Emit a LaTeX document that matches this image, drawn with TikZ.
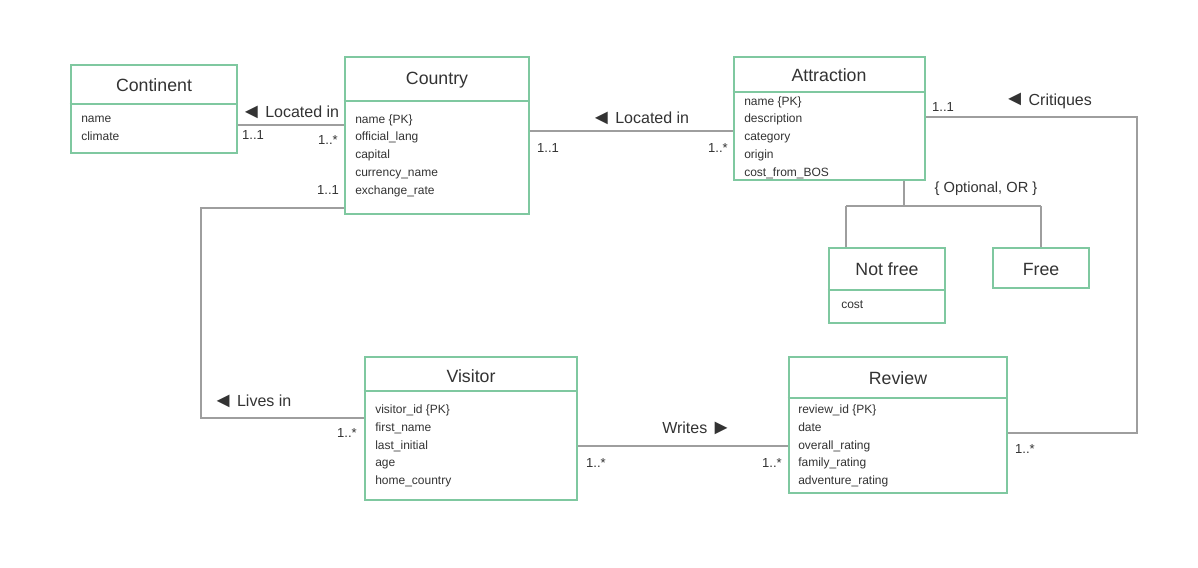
\documentclass[tikz,border=0pt]{standalone}
\usepackage{fontspec}
\setmainfont{Liberation Sans}
\usetikzlibrary{fit,calc,backgrounds}
\definecolor{boxgreen}{HTML}{7FC8A0}
\definecolor{linegray}{HTML}{9E9E9E}
\definecolor{txt}{HTML}{333333}
\newcommand\attrlist[4]{%
  \foreach \t [count=\i] in {#4} {\node[attr, anchor=base west] (#1-\i) at (#2, {#3+(\i-1)*17.8}) {\t};}}
\newcommand\lefttri{{\fontsize{16}{16}\selectfont\raisebox{-0.6pt}{◄}}\hspace{2.5pt}}
\newcommand\righttri{\hspace{2.5pt}{\fontsize{16}{16}\selectfont\raisebox{-0.6pt}{►}}}
\begin{document}
\begin{tikzpicture}[x=0.75pt,y=-0.75pt,
  classbox/.style={draw=boxgreen, line width=2.2pt, inner sep=0pt, fill=white},
  divider/.style={draw=boxgreen, line width=2.2pt},
  title/.style={font=\fontsize{13.3}{16}\selectfont, text=txt, inner sep=0pt},
  attr/.style={font=\fontsize{9}{11}\selectfont, text=txt, inner sep=0pt},
  conn/.style={draw=linegray, line width=2pt},
  lbl/.style={font=\fontsize{12}{14}\selectfont, text=txt, inner sep=0pt},
  mult/.style={font=\fontsize{9.8}{11}\selectfont, text=txt, inner sep=0pt},
]
\useasboundingbox (0,0) rectangle (1198,567);
% classes
\node[classbox, fit={(71,65) (237,153)}] (continent) {};
\draw[divider] (continent.west |- 0,104) -- (continent.east |- 0,104);
\node[title] (continentT) at (154,85) {Continent};
\attrlist{cont}{81}{122.5}{name,climate}

\node[classbox, fit={(345,57) (529,214)}] (country) {};
\draw[divider] (country.west |- 0,101) -- (country.east |- 0,101);
\node[title] (countryT) at (437,80) {Country};
\attrlist{coun}{355}{123}{name \{PK\},official\_lang,capital,currency\_name,exchange\_rate}

\node[classbox, fit={(734,57) (925,180)}] (attraction) {};
\draw[divider] (attraction.west |- 0,92) -- (attraction.east |- 0,92);
\node[title] (attractionT) at (829,75) {Attraction};
\attrlist{attr}{744}{105}{name \{PK\},description,category,origin,cost\_from\_BOS}

\node[classbox, fit={(829,248) (945,323)}] (notfree) {};
\draw[divider] (notfree.west |- 0,290) -- (notfree.east |- 0,290);
\node[title] (notfreeT) at (887,269) {Not free};
\attrlist{nf}{841}{308.5}{cost}

\node[classbox, fit={(993,248) (1089,288)}] (free) {};
\node[title] (freeT) at (1041,269) {Free};

\node[classbox, fit={(365,357) (577,500)}] (visitor) {};
\draw[divider] (visitor.west |- 0,391) -- (visitor.east |- 0,391);
\node[title] (visitorT) at (471,376) {Visitor};
\attrlist{vis}{375}{413.5}{visitor\_id \{PK\},first\_name,last\_initial,age,home\_country}

\node[classbox, fit={(789,357) (1007,493)}] (review) {};
\draw[divider] (review.west |- 0,398) -- (review.east |- 0,398);
\node[title] (reviewT) at (898,378) {Review};
\attrlist{rev}{798}{413.5}{review\_id \{PK\},date,overall\_rating,family\_rating,adventure\_rating}

% connectors
\coordinate (lc) at (290,125);
\coordinate (la) at (640,131);
\coordinate (liveL) at (201,208);
\coordinate (liveB) at (201,418);
\coordinate (wr) at (690,446);
\coordinate (crT) at (1137,117);
\coordinate (crB) at (1137,433);
\coordinate (gT) at (904,206);
\coordinate (gL) at (846,206);
\coordinate (gR) at (1041,206);
\begin{scope}[on background layer]
\fill[white] (0,0) rectangle (1198,567);
\draw[conn] (continent.east |- lc) -- (country.west |- lc);
\draw[conn] (country.east |- la) -- (attraction.west |- la);
\draw[conn] (country.west |- liveL) -- (liveL) -- (liveB) -- (visitor.west |- liveB);
\draw[conn] (visitor.east |- wr) -- (review.west |- wr);
\draw[conn] (attraction.east |- crT) -- (crT) -- (crB) -- (review.east |- crB);
\draw[conn] (attraction.south -| gT) -- (gT);
\draw[conn] (gL) -- (gR);
\draw[conn] (gL) -- (notfree.north -| gL);
\draw[conn] (gR) -- (free.north -| gR);
\end{scope}

% labels
\node[lbl] (l1) at (290,112) {\lefttri Located in};
\node[lbl] (l2) at (640,118) {\lefttri Located in};
\node[lbl] (l3) at (252,401) {\lefttri Lives in};
\node[lbl] (l4) at (697,428) {Writes\righttri};
\node[lbl] (l5) at (1048,101) {\lefttri Critiques};
\node[lbl, font=\fontsize{11}{13}\selectfont] (l6) at (986,189) {\{ Optional, OR \}};

% multiplicities
\node[mult] (m1) at (253,135) {1..1};
\node[mult] (m2) at (328,140) {1..*};
\node[mult] (m3) at (548,148) {1..1};
\node[mult] (m4) at (718,148) {1..*};
\node[mult] (m5) at (328,190) {1..1};
\node[mult] (m6) at (347,433) {1..*};
\node[mult] (m7) at (596,463) {1..*};
\node[mult] (m8) at (772,463) {1..*};
\node[mult] (m9) at (943,107) {1..1};
\node[mult] (m10) at (1025,449) {1..*};
\end{tikzpicture}
\end{document}
